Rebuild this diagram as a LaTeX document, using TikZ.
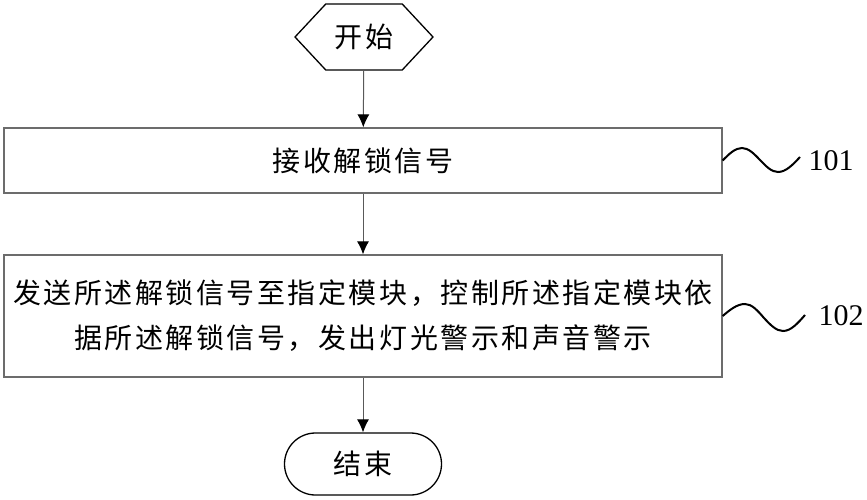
\documentclass[tikz,border=0pt]{standalone}
\usepackage{fontspec}
\setmainfont{Liberation Serif}
\newfontfamily\cjk[LetterSpace=9]{Noto Sans CJK SC}
\usetikzlibrary{positioning}
\usetikzlibrary{arrows.meta,shapes.misc,shapes.symbols}

\tikzset{
  stepbox/.style={draw=gray!85!black,line width=1.3pt,minimum width=718pt,inner sep=0pt,
    font=\cjk\fontsize{28}{45}\selectfont,align=center},
  startnode/.style={signal,signal to=west and east,signal pointer angle=94,draw,line width=1.3pt,
    minimum width=138pt,minimum height=66pt,inner sep=0pt,font=\cjk\fontsize{28}{32}\selectfont},
  stopnode/.style={rounded rectangle,draw,line width=1.3pt,minimum width=157pt,minimum height=62pt,
    inner sep=0pt,font=\cjk\fontsize{28}{32}\selectfont},
  flow/.style={draw=gray!70!black,line width=1pt,-{Latex[length=13pt,width=12pt,color=black]}},
  wave/.style={line width=2pt},
  numlabel/.style={font=\fontsize{30}{32}\selectfont,inner sep=0pt}
}

\begin{document}
\begin{tikzpicture}[x=1pt,y=-1pt]
\useasboundingbox (0,0) rectangle (867,500);

\node[startnode](start) at (364,37){开始};
\node[stepbox,minimum height=65pt](s101) at (363,160.5){接收解锁信号};
\node[stepbox,minimum height=122pt](s102) at (363,316){发送所述解锁信号至指定模块，控制所述指定模块依\\据所述解锁信号，发出灯光警示和声音警示};
\node[stopnode](stop) at (363,464){结束};

% step numbers
\node[numlabel](n101) at (831,161){101};
\node[numlabel](n102) at (841,316){102};

\draw[wave] (s101.east) sin (742,148) cos (760,160) sin (778,172) cos (800,157);
\draw[wave] (s102.east) sin (745,304) cos (764,318) sin (783,331) cos (805,315);

\path[flow] (start) -- (s101);
\path[flow] (s101) -- (s102);
\path[flow] (s102) -- (stop);
\end{tikzpicture}
\end{document}
